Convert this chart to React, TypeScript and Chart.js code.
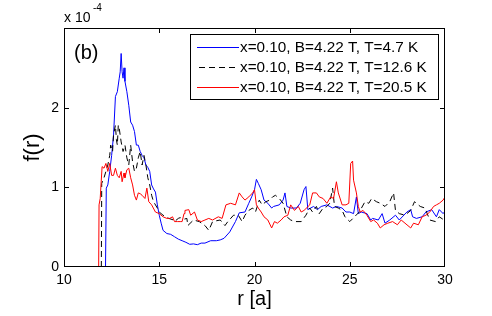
import React, { useEffect, useRef } from "react";
import { Chart, registerables } from "chart.js";

Chart.register(...registerables);

const FONT = "'Liberation Sans', Arial, Helvetica, sans-serif";

const seriesLabels = [
  "x=0.10, B=4.22 T, T=4.7 K",
  "x=0.10, B=4.22 T, T=12.6 K",
  "x=0.10, B=4.22 T, T=20.5 K",
];
const seriesColors = ["#0000FF", "#000000", "#FF0000"];

const xTicks = [10, 15, 20, 25, 30];
const yTicks = [0, 1, 2];

// f(r) in units of 1e-4
const blueR = [12.18, 12.22, 12.3, 12.4, 12.5, 12.6, 12.7, 12.8, 12.9, 12.95, 13.0, 13.05, 13.1, 13.15, 13.2, 13.3, 13.4, 13.5, 13.6, 13.7, 13.8, 13.9, 14.0, 14.1, 14.2, 14.3, 14.4, 14.5, 14.6, 14.7, 14.8, 14.9, 15.0, 15.1, 15.2, 15.4, 15.6, 15.8, 16.0, 16.2, 16.4, 16.6, 16.8, 17.0, 17.2, 17.4, 17.7, 18.0, 18.2, 18.4, 18.7, 19.0, 19.2, 19.5, 19.7, 19.85, 20.0, 20.1, 20.2, 20.35, 20.5, 20.7, 20.9, 21.0, 21.3, 21.5, 21.6, 21.7, 21.9, 22.2, 22.4, 22.6, 22.7, 22.8, 23.1, 23.3, 23.5, 23.8, 24.1, 24.3, 24.6, 24.8, 25.0, 25.2, 25.35, 25.45, 25.6, 25.9, 26.1, 26.2, 26.5, 26.7, 26.85, 27.1, 27.4, 27.6, 28.0, 28.2, 28.3, 28.5, 28.8, 29.0, 29.3, 29.55, 29.7, 29.9, 30.0];
const blueF = [0, 0.99, 1.03, 1.2, 1.4, 1.65, 2.14, 2.2, 2.37, 2.45, 2.68, 2.45, 2.37, 2.5, 2.33, 2.2, 2.03, 1.82, 1.78, 1.7, 1.53, 1.53, 1.45, 1.4, 1.37, 1.28, 1.25, 1.2, 1.03, 0.98, 0.94, 0.78, 0.65, 0.55, 0.46, 0.42, 0.41, 0.38, 0.35, 0.33, 0.31, 0.285, 0.29, 0.28, 0.3, 0.3, 0.33, 0.33, 0.34, 0.36, 0.44, 0.57, 0.68, 0.69, 0.8, 0.88, 0.97, 1.1, 1.05, 0.97, 0.84, 0.8, 0.74, 0.76, 0.78, 0.84, 0.93, 0.76, 0.74, 0.74, 0.8, 0.97, 1.01, 0.72, 0.76, 0.72, 0.76, 0.78, 0.74, 0.76, 0.74, 0.69, 0.69, 0.67, 0.88, 0.67, 0.69, 0.67, 0.59, 0.61, 0.59, 0.67, 0.55, 0.59, 0.65, 0.59, 0.69, 0.72, 0.63, 0.61, 0.63, 0.69, 0.72, 0.63, 0.72, 0.67, 0.7];

const blackR = [11.96, 11.98, 12.1, 12.2, 12.3, 12.4, 12.45, 12.55, 12.6, 12.7, 12.75, 12.8, 12.85, 12.9, 13.0, 13.1, 13.2, 13.3, 13.4, 13.5, 13.6, 13.7, 13.8, 13.9, 14.0, 14.1, 14.2, 14.3, 14.4, 14.5, 14.6, 14.7, 14.9, 15.0, 15.2, 15.5, 15.75, 15.8, 16.0, 16.1, 16.3, 16.45, 16.5, 16.8, 17.1, 17.4, 17.6, 17.8, 18.2, 18.45, 18.6, 18.9, 19.15, 19.35, 19.5, 19.7, 19.9, 20.05, 20.2, 20.25, 20.4, 20.6, 20.8, 20.95, 21.1, 21.3, 21.5, 21.7, 21.9, 22.1, 22.45, 22.7, 22.9, 23.05, 23.25, 23.4, 23.6, 23.8, 23.95, 24.1, 24.2, 24.4, 24.6, 24.75, 25.0, 25.25, 25.5, 25.8, 26.0, 26.15, 26.4, 26.6, 26.85, 27.1, 27.3, 27.4, 27.6, 27.9, 28.2, 28.4, 28.7, 28.95, 29.2, 29.5, 29.7, 29.95, 30.0];
const blackF = [0, 1.05, 1.12, 1.2, 1.28, 1.4, 1.53, 1.45, 1.66, 1.78, 1.6, 1.53, 1.78, 1.74, 1.57, 1.45, 1.53, 1.37, 1.28, 1.53, 1.32, 1.2, 1.24, 1.37, 1.45, 1.28, 1.4, 1.28, 1.12, 1.03, 0.9, 0.82, 0.74, 0.69, 0.65, 0.61, 0.59, 0.57, 0.61, 0.62, 0.6, 0.61, 0.52, 0.59, 0.57, 0.52, 0.46, 0.57, 0.59, 0.52, 0.57, 0.65, 0.65, 0.57, 0.65, 0.71, 0.74, 0.69, 0.8, 0.84, 0.78, 0.82, 0.84, 0.88, 0.9, 0.86, 0.8, 0.63, 0.59, 0.57, 0.57, 0.65, 0.74, 0.69, 0.76, 0.67, 0.74, 0.76, 0.8, 0.99, 0.76, 0.74, 0.71, 0.63, 0.57, 0.63, 0.69, 0.82, 0.8, 0.86, 0.82, 0.8, 0.76, 0.82, 0.93, 0.71, 0.67, 0.65, 0.71, 0.82, 0.76, 0.74, 0.59, 0.57, 0.63, 0.59, 0.57];

const redR = [11.82, 11.84, 11.9, 12.0, 12.1, 12.2, 12.3, 12.4, 12.5, 12.6, 12.7, 12.8, 12.9, 13.0, 13.05, 13.15, 13.2, 13.3, 13.4, 13.5, 13.6, 13.7, 13.8, 13.9, 14.0, 14.1, 14.25, 14.35, 14.45, 14.6, 14.8, 15.0, 15.2, 15.4, 15.55, 15.7, 15.8, 15.95, 16.1, 16.2, 16.3, 16.35, 16.55, 16.65, 16.85, 17.0, 17.2, 17.4, 17.6, 17.8, 18.1, 18.3, 18.5, 18.75, 19.0, 19.2, 19.35, 19.5, 19.7, 19.9, 20.0, 20.1, 20.2, 20.35, 20.5, 20.7, 20.9, 21.05, 21.2, 21.4, 21.55, 21.75, 21.9, 22.1, 22.3, 22.45, 22.6, 22.9, 23.05, 23.25, 23.4, 23.6, 23.8, 24.0, 24.15, 24.3, 24.4, 24.6, 24.8, 24.95, 25.05, 25.15, 25.2, 25.35, 25.45, 25.55, 25.7, 25.9, 26.1, 26.25, 26.45, 26.6, 26.8, 27.0, 27.25, 27.5, 27.7, 27.9, 28.2, 28.35, 28.6, 28.8, 29.0, 29.2, 29.4, 29.55, 29.7, 29.9, 30.0];
const redF = [0, 0.78, 0.86, 1.26, 1.24, 1.3, 1.2, 1.3, 1.15, 1.15, 1.24, 1.15, 1.12, 1.2, 1.07, 1.18, 1.12, 1.22, 1.24, 1.12, 1.03, 0.9, 0.84, 0.93, 0.92, 0.9, 0.86, 0.99, 0.82, 0.78, 0.69, 0.67, 0.63, 0.61, 0.61, 0.63, 0.57, 0.57, 0.57, 0.57, 0.67, 0.71, 0.72, 0.65, 0.69, 0.59, 0.57, 0.59, 0.61, 0.59, 0.63, 0.61, 0.78, 0.8, 0.78, 0.93, 0.88, 0.84, 0.88, 0.93, 0.97, 0.78, 0.74, 0.69, 0.63, 0.59, 0.49, 0.57, 0.55, 0.59, 0.63, 0.65, 0.78, 0.71, 0.76, 0.69, 0.71, 0.78, 0.93, 0.93, 0.88, 0.86, 0.8, 0.88, 0.86, 1.07, 0.93, 0.78, 0.78, 0.8, 1.3, 1.33, 1.09, 0.93, 0.76, 0.69, 0.71, 0.65, 0.57, 0.59, 0.55, 0.49, 0.53, 0.55, 0.57, 0.53, 0.59, 0.55, 0.49, 0.55, 0.53, 0.63, 0.65, 0.69, 0.76, 0.78, 0.8, 0.84, 0.88];

function pts(r: number[], f: number[]) {
  return r.map((x, i) => ({ x, y: f[i] }));
}

const dashes: number[][] = [[], [6, 4], []];

const decoPlugin = {
  id: "matlabDeco",
  afterDatasetsDraw(chart: any) {
    const { ctx, chartArea, scales } = chart;
    const { left, right, top, bottom } = chartArea;
    ctx.save();
    ctx.strokeStyle = "#000";
    ctx.lineWidth = 1;
    ctx.setLineDash([]);
    ctx.strokeRect(left + 0.5, top + 0.5, right - left - 1, bottom - top - 1);
    ctx.beginPath();
    for (const v of xTicks) {
      const px = Math.round(scales.x.getPixelForValue(v)) + 0.5;
      if (px <= left + 2 || px >= right - 2) continue;
      ctx.moveTo(px, bottom);
      ctx.lineTo(px, bottom - 5);
      ctx.moveTo(px, top);
      ctx.lineTo(px, top + 5);
    }
    for (const v of yTicks) {
      const py = Math.round(scales.y.getPixelForValue(v)) + 0.5;
      if (py <= top + 2 || py >= bottom - 2) continue;
      ctx.moveTo(left, py);
      ctx.lineTo(left + 5, py);
      ctx.moveTo(right, py);
      ctx.lineTo(right - 5, py);
    }
    ctx.stroke();
    ctx.restore();
  },
  afterDraw(chart: any) {
    const { ctx, chartArea } = chart;
    const { left, right, top, bottom } = chartArea;
    ctx.save();
    ctx.setLineDash([]);
    // legend box
    ctx.fillStyle = "#ffffff";
    ctx.fillRect(190, 34, 249, 66);
    ctx.fillStyle = "#000000";
    ctx.fillRect(190, 34, 249, 1);
    ctx.fillRect(190, 99, 249, 1);
    ctx.fillRect(190, 34, 1, 66);
    ctx.fillRect(438, 34, 1, 66);
    const rows = [47, 67, 87];
    ctx.font = `15.3px ${FONT}`;
    ctx.textBaseline = "middle";
    ctx.textAlign = "left";
    seriesLabels.forEach((lab, i) => {
      const col = seriesColors[i];
      const d = dashes[i];
      ctx.fillStyle = col;
      if (d.length === 0) {
        ctx.fillRect(197, rows[i], 42, 1);
      } else {
        for (let xx = 199; xx < 239; xx += d[0] + d[1]) {
          ctx.fillRect(xx, rows[i], Math.min(d[0], 239 - xx), 1);
        }
      }
      ctx.fillStyle = "#000000";
      ctx.fillText(lab, 240, rows[i] + 0.5);
    });
    // (b)
    ctx.fillStyle = "#000";
    ctx.textBaseline = "alphabetic";
    ctx.font = `20px ${FONT}`;
    ctx.fillText("(b)", 74, 59);
    // exponent
    ctx.font = `14px ${FONT}`;
    ctx.fillText("x 10", 64, 21.5);
    ctx.font = `10px ${FONT}`;
    ctx.fillText("-4", 93, 10.5);
    // axis titles
    ctx.font = `20px ${FONT}`;
    ctx.textAlign = "center";
    ctx.textBaseline = "middle";
    ctx.fillText("r [a]", (left + right) / 2, 299);
    ctx.save();
    ctx.translate(33, (top + bottom) / 2);
    ctx.rotate(-Math.PI / 2);
    ctx.font = `22px ${FONT}`;
    ctx.fillText("f(r)", 0, 0);
    ctx.restore();
    ctx.restore();
  },
};

export default function App() {
  const ref = useRef<HTMLCanvasElement>(null);
  useEffect(() => {
    if (!ref.current) return;
    const mk = (i: number, r: number[], f: number[], order: number) => ({
      label: seriesLabels[i],
      data: pts(r, f),
      borderColor: seriesColors[i],
      backgroundColor: seriesColors[i],
      borderWidth: 1,
      borderDash: dashes[i],
      pointRadius: 0,
      tension: 0,
      fill: false,
      order,
    });
    const chart = new Chart(ref.current, {
      type: "line",
      data: {
        datasets: [
          mk(0, blueR, blueF, 3),
          mk(1, blackR, blackF, 2),
          mk(2, redR, redF, 1),
        ],
      },
      plugins: [decoPlugin],
      options: {
        animation: false,
        responsive: false,
        devicePixelRatio: 1,
        layout: { padding: { top: 28, right: 47, bottom: 0, left: 0 } },
        plugins: { legend: { display: false }, tooltip: { enabled: false } },
        scales: {
          x: {
            type: "linear",
            min: 10,
            max: 30,
            afterBuildTicks: (s: any) => {
              s.ticks = xTicks.map((v) => ({ value: v }));
            },
            afterFit: (s: any) => {
              s.height = 49;
            },
            grid: { display: false, drawTicks: false },
            border: { display: false },
            ticks: {
              color: "#000",
              font: { family: FONT, size: 14 },
              padding: 5,
              maxRotation: 0,
              autoSkip: false,
            },
          },
          y: {
            type: "linear",
            min: 0,
            max: 3,
            afterBuildTicks: (s: any) => {
              s.ticks = yTicks.map((v) => ({ value: v }));
            },
            afterFit: (s: any) => {
              s.width = 64;
            },
            grid: { display: false, drawTicks: false },
            border: { display: false },
            ticks: {
              color: "#000",
              font: { family: FONT, size: 14 },
              padding: 5,
              autoSkip: false,
            },
          },
        },
      },
    } as any);
    return () => chart.destroy();
  }, []);
  return (
    <div style={{ position: "absolute", left: 0, top: 0, width: 492, height: 316, background: "#fff" }}>
      <canvas ref={ref} width={492} height={316} style={{ display: "block" }} />
    </div>
  );
}
